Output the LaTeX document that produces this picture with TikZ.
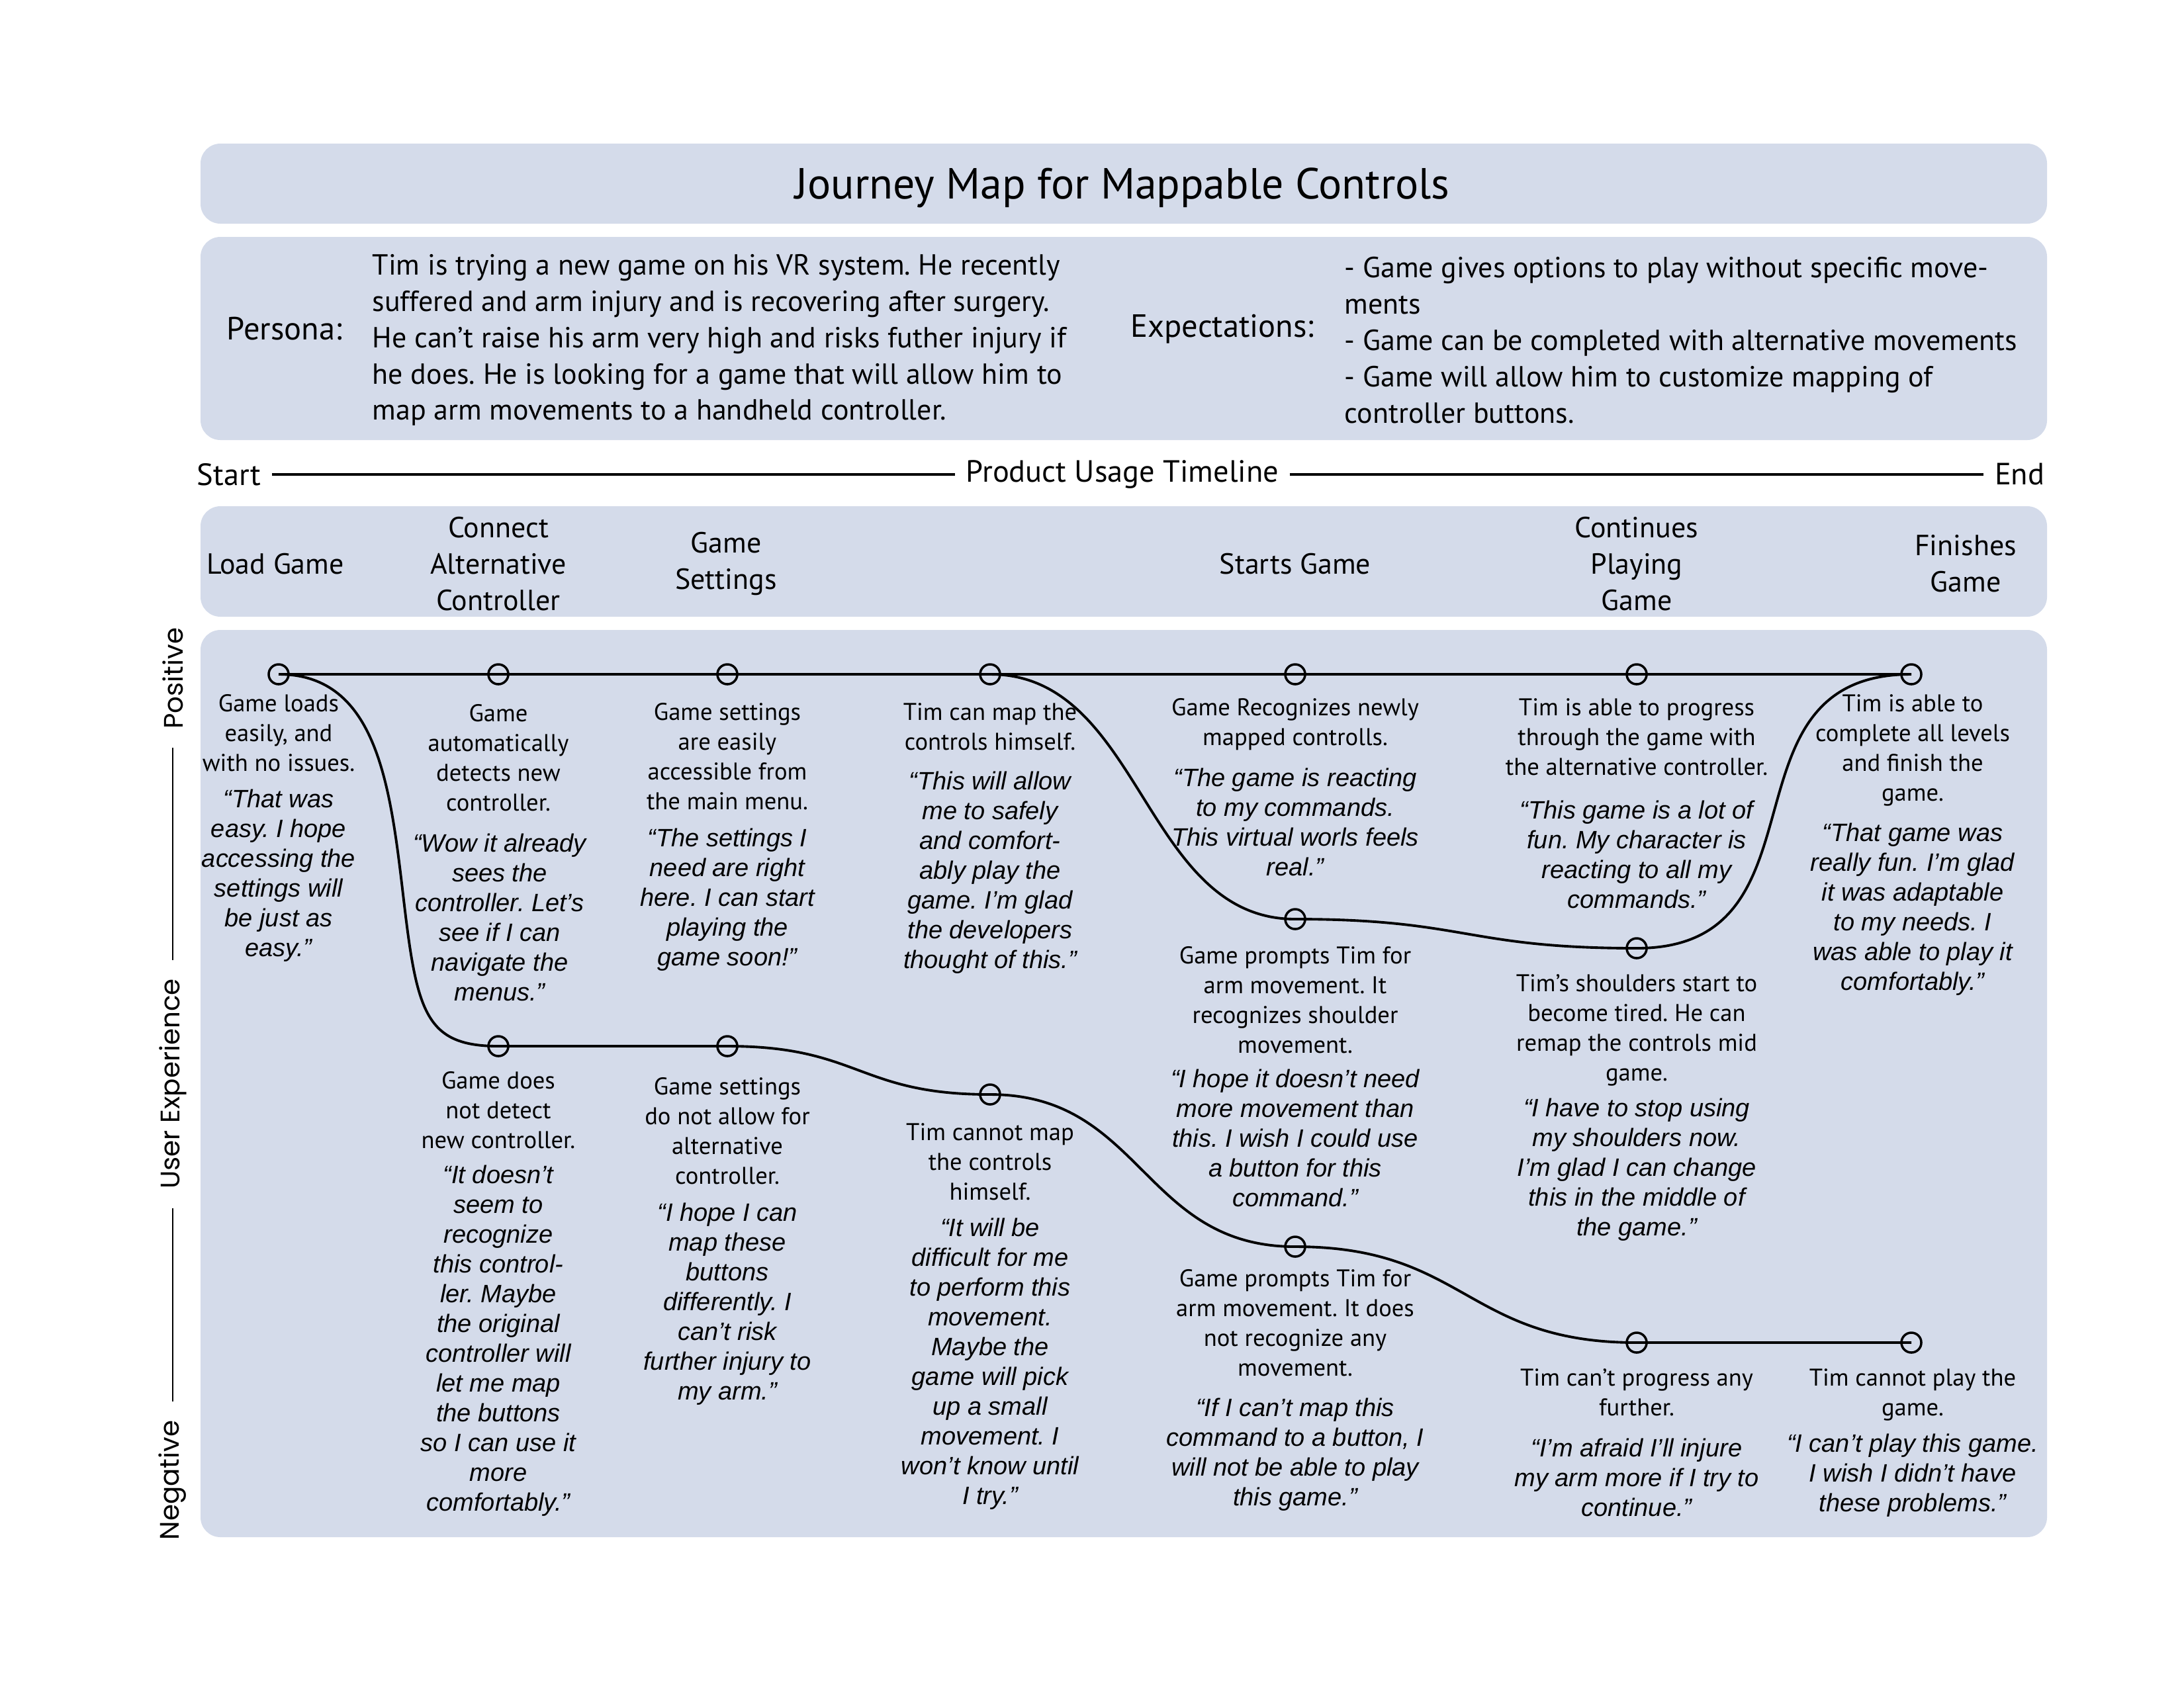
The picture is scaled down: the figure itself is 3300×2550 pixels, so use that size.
\documentclass[tikz,border=0pt]{standalone}
\usepackage{fontspec}
\setmainfont{PT Sans}
\newfontfamily\quotefont{Liberation Sans}
\newfontfamily\axisfont{Poppins}
\usetikzlibrary{positioning}
\definecolor{mapfill}{RGB}{212,219,234}
\frenchspacing
\tikzset{
    panel/.style={fill=mapfill, rounded corners=0.3cm},
    titletext/.style={font=\fontsize{18.7}{22}\selectfont, inner sep=0pt},
    bodytext/.style={font=\fontsize{12.5}{15.6}\selectfont, align=left, anchor=west, inner sep=0pt},
    headtext/.style={font=\fontsize{13.8}{15.6}\selectfont, inner sep=0pt},
    timeline/.style={font=\fontsize{13.2}{15.6}\selectfont, inner ysep=0pt, inner xsep=0.16cm},
    timelineline/.style={line width=0.9pt},
    stage/.style={font=\fontsize{12.5}{15.6}\selectfont, align=center, inner sep=0pt},
    desc/.style={font=\fontsize{10.4}{12.8}\selectfont, align=center, anchor=north, inner sep=0pt},
    quotetext/.style={font=\quotefont\itshape\fontsize{10.8}{12.8}\selectfont, align=center, anchor=north, inner sep=0pt},
    milestone/.style={circle, draw, line width=1pt, minimum size=0.3cm, inner sep=0pt},
    journey/.style={line width=1.1pt},
    axislabel/.style={font=\axisfont\fontsize{11.5}{13}\selectfont, rotate=90, inner ysep=0pt, inner xsep=0.28cm},
    axisline/.style={line width=0.8pt},
}
\begin{document}
\begin{tikzpicture}[x=0.01cm, y=-0.01cm]
    \useasboundingbox (0,0) rectangle (3300,2550);
    % background panels
    \fill[panel] (303,217) rectangle (3093,338);
    \fill[panel] (303,358) rectangle (3093,665);
    \fill[panel] (303,765) rectangle (3093,932);
    \fill[panel] (303,952) rectangle (3093,2323);

    % header
    \node[titletext] (title) at (1696,284) {Journey Map for Mappable Controls};
    \node[headtext] (persona) at (430,497) {Persona:};
    \node[bodytext] (personatext) at (562,514)
        {Tim is trying a new game on his VR system. He recently\\
         suffered and arm injury and is recovering after surgery.\\
         He can’t raise his arm very high and risks futher injury if\\
         he does. He is looking for a game that will allow him to\\
         map arm movements to a handheld controller.};
    \node[headtext] (expect) at (1847,497) {Expectations:};
    \node[bodytext] (expecttext) at (2031,514)
        {- Game gives options to play without specific move-\\
         ments\\
         - Game can be completed with alternative movements\\
         - Game will allow him to customize mapping of\\
         controller buttons.};

    % timeline
    \node[timeline, anchor=west] (start) at (281,717) {Start};
    \node[timeline] (usage) at (1696,717) {Product Usage Timeline};
    \node[timeline, anchor=east] (finish) at (3106,717) {End};
    \draw[timelineline] (start) -- (usage);
    \draw[timelineline] (usage) -- (finish);

    % stages
    \node[stage] (sload) at (416,852) {Load Game};
    \node[stage] (sconnect) at (753,852) {Connect\\Alternative\\Controller};
    \node[stage] (ssettings) at (1097,852) {Game\\Settings};
    \node[stage] (sstart) at (1957,852) {Starts Game};
    \node[stage] (scontinue) at (2473,852) {Continues\\Playing\\Game};
    \node[stage] (sfinish) at (2970,852) {Finishes\\Game};

    % experience axis
    \node[axislabel] (positive) at (261,1025) {Positive};
    \node[axislabel] (userexp) at (261,1638) {User Experience};
    \node[axislabel] (negative) at (261,2237) {Negative};
    \draw[axisline] (positive.west) -- (userexp.east);
    \draw[axisline] (userexp.west) -- (negative.east);

    % milestones
    \foreach \name/\x/\y in {p1/421/1019, p2/753/1019, p3/1099/1019, p4/1496/1019,
        p5/1957/1019, p6/2473/1019, p7/2888/1019, m5/1957/1389, m6/2473/1433,
        n2/753/1581, n3/1099/1581, n4/1496/1654, n5/1957/1884, n6/2473/2029, n7/2888/2029}
        \node[milestone] (\name) at (\x,\y) {};
    \coordinate (drop) at (610,1360);

    % journey lines
    \draw[journey] (p1.center) -- (p7.center);
    \draw[journey] (p1.center) .. controls +(150,0) and +(-20,-170) .. (drop)
        .. controls +(20,170) and +(-110,0) .. (n2.center) -- (n3.center)
        .. controls +(200,0) and +(-200,0) .. (n4.center)
        .. controls +(230,0) and +(-230,0) .. (n5.center)
        .. controls +(258,0) and +(-258,0) .. (n6.center) -- (n7.center);
    \draw[journey] (p4.center) .. controls +(230,0) and +(-230,0) .. (m5.center)
        .. controls +(258,0) and +(-258,0) .. (m6.center)
        .. controls +(300,0) and +(-300,0) .. (p7.center);

    % positive path texts
    \node[desc] (dp1) at (421,1049) {Game loads\\easily, and\\with no issues.};
    \node[quotetext] (qp1) at (421,1192) {“That was\\easy. I hope\\accessing the\\settings will\\be just as\\easy.”};
    \node[desc] (dp2) at (753,1064) {Game\\automatically\\detects new\\controller.};
    \node[quotetext] (qp2) at (755,1259) {“Wow it already\\sees the\\controller. Let’s\\see if I can\\navigate the\\menus.”};
    \node[desc] (dp3) at (1099,1062) {Game settings\\are easily\\accessible from\\the main menu.};
    \node[quotetext] (qp3) at (1099,1251) {“The settings I\\need are right\\here. I can start\\playing the\\game soon!”};
    \node[desc] (dp4) at (1496,1062) {Tim can map the\\controls himself.};
    \node[quotetext] (qp4) at (1496,1165) {“This will allow\\me to safely\\and comfort-\\ably play the\\game. I’m glad\\the developers\\thought of this.”};
    \node[desc] (dp5) at (1957,1055) {Game Recognizes newly\\mapped controlls.};
    \node[quotetext] (qp5) at (1957,1160) {“The game is reacting\\to my commands.\\This virtual worls feels\\real.”};
    \node[desc] (dp6) at (2473,1055) {Tim is able to progress\\through the game with\\the alternative controller.};
    \node[quotetext] (qp6) at (2473,1209) {“This game is a lot of\\fun. My character is\\reacting to all my\\commands.”};
    \node[desc] (dp7) at (2890,1049) {Tim is able to\\complete all levels\\and finish the\\game.};
    \node[quotetext] (qp7) at (2890,1243) {“That game was\\really fun. I’m glad\\it was adaptable\\to my needs. I\\was able to play it\\comfortably.”};

    % middle path texts
    \node[desc] (dm5) at (1957,1430) {Game prompts Tim for\\arm movement. It\\recognizes shoulder\\movement.};
    \node[quotetext] (qm5) at (1957,1615) {“I hope it doesn’t need\\more movement than\\this. I wish I could use\\a button for this\\command.”};
    \node[desc] (dm6) at (2473,1472) {Tim’s shoulders start to\\become tired. He can\\remap the controls mid\\game.};
    \node[quotetext] (qm6) at (2473,1659) {“I have to stop using\\my shoulders now.\\I’m glad I can change\\this in the middle of\\the game.”};

    % negative path texts
    \node[desc] (dn2) at (753,1619) {Game does\\not detect\\new controller.};
    \node[quotetext] (qn2) at (753,1760) {“It doesn’t\\seem to\\recognize\\this control-\\ler. Maybe\\the original\\controller will\\let me map\\the buttons\\so I can use it\\more\\comfortably.”};
    \node[desc] (dn3) at (1099,1628) {Game settings\\do not allow for\\alternative\\controller.};
    \node[quotetext] (qn3) at (1099,1817) {“I hope I can\\map these\\buttons\\differently. I\\can’t risk\\further injury to\\my arm.”};
    \node[desc] (dn4) at (1496,1697) {Tim cannot map\\the controls\\himself.};
    \node[quotetext] (qn4) at (1496,1840) {“It will be\\difficult for me\\to perform this\\movement.\\Maybe the\\game will pick\\up a small\\movement. I\\won’t know until\\I try.”};
    \node[desc] (dn5) at (1957,1918) {Game prompts Tim for\\arm movement. It does\\not recognize any\\movement.};
    \node[quotetext] (qn5) at (1957,2112) {“If I can’t map this\\command to a button, I\\will not be able to play\\this game.”};
    \node[desc] (dn6) at (2473,2068) {Tim can’t progress any\\further.};
    \node[quotetext] (qn6) at (2473,2173) {“I’m afraid I’ll injure\\my arm more if I try to\\continue.”};
    \node[desc] (dn7) at (2890,2068) {Tim cannot play the\\game.};
    \node[quotetext] (qn7) at (2890,2166) {“I can’t play this game.\\I wish I didn’t have\\these problems.”};
\end{tikzpicture}
\end{document}
